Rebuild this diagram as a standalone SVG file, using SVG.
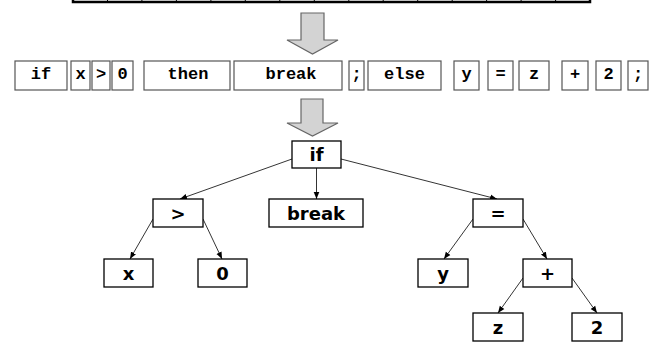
<svg xmlns="http://www.w3.org/2000/svg" width="653" height="342" viewBox="0 0 653 342">
<style>
.tok{fill:#fff;stroke:#555;stroke-width:1.2}
.tt{font-family:"Liberation Mono",monospace;font-weight:bold;font-size:17px;text-anchor:middle;fill:#000}
.nd{fill:#fff;stroke:#000;stroke-width:1.3}
.nt{font-family:"DejaVu Sans",sans-serif;font-weight:bold;font-size:18px;text-anchor:middle;fill:#000}
.ed{stroke:#000;stroke-width:0.8;fill:none;marker-end:url(#ah)}
.big{fill:#d3d3d3;stroke:#666;stroke-width:1.2}
.div{stroke:#000;stroke-width:1}
</style>
<defs>
<marker id="ah" viewBox="0 0 10 10" refX="10" refY="5" markerWidth="7" markerHeight="7" markerUnits="userSpaceOnUse" orient="auto">
<path d="M0,1 L10,5 L0,9 z" fill="#000"/>
</marker>
</defs>
<rect width="653" height="342" fill="#fff"/>
<g id="bar">
<rect x="73" y="-20" width="517" height="22" fill="#fff" stroke="#000" stroke-width="2.5"/>
<g class="div">
<line x1="107.5" y1="-20" x2="107.5" y2="2"/><line x1="141.9" y1="-20" x2="141.9" y2="2"/>
<line x1="176.4" y1="-20" x2="176.4" y2="2"/><line x1="210.9" y1="-20" x2="210.9" y2="2"/>
<line x1="245.3" y1="-20" x2="245.3" y2="2"/><line x1="279.8" y1="-20" x2="279.8" y2="2"/>
<line x1="314.3" y1="-20" x2="314.3" y2="2"/><line x1="348.8" y1="-20" x2="348.8" y2="2"/>
<line x1="383.2" y1="-20" x2="383.2" y2="2"/><line x1="417.7" y1="-20" x2="417.7" y2="2"/>
<line x1="452.2" y1="-20" x2="452.2" y2="2"/><line x1="486.6" y1="-20" x2="486.6" y2="2"/>
<line x1="521.1" y1="-20" x2="521.1" y2="2"/><line x1="555.6" y1="-20" x2="555.6" y2="2"/>
</g>
</g>
<g id="arrow1"><path class="big" d="M301,13 H324 V40 H338 L312.5,54 L287,40 H301 Z"/></g>
<g id="tokens">
<g id="t-if"><rect class="tok" x="15" y="61" width="52" height="29"/><text class="tt" x="41" y="79">if</text></g>
<g id="t-x"><rect class="tok" x="71" y="61" width="19" height="29"/><text class="tt" x="80.5" y="79">x</text></g>
<g id="t-gt"><rect class="tok" x="92" y="61" width="18" height="29"/><text class="tt" x="101" y="79">&gt;</text></g>
<g id="t-0"><rect class="tok" x="112" y="61" width="21" height="29"/><text class="tt" x="122.5" y="79">0</text></g>
<g id="t-then"><rect class="tok" x="144" y="61" width="86" height="29"/><text class="tt" x="188" y="79">then</text></g>
<g id="t-break"><rect class="tok" x="234" y="61" width="108" height="29"/><text class="tt" x="291" y="79">break</text></g>
<g id="t-semi1"><rect class="tok" x="349" y="61" width="15" height="29"/><text class="tt" x="356.5" y="79">;</text></g>
<g id="t-else"><rect class="tok" x="368" y="61" width="73" height="29"/><text class="tt" x="404.5" y="79">else</text></g>
<g id="t-y"><rect class="tok" x="454" y="61" width="25" height="29"/><text class="tt" x="466.5" y="79">y</text></g>
<g id="t-eq"><rect class="tok" x="488" y="61" width="25" height="29"/><text class="tt" x="500.5" y="79">=</text></g>
<g id="t-z"><rect class="tok" x="519" y="61" width="30" height="29"/><text class="tt" x="534" y="79">z</text></g>
<g id="t-plus"><rect class="tok" x="562" y="61" width="26" height="29"/><text class="tt" x="575" y="79">+</text></g>
<g id="t-2"><rect class="tok" x="596" y="61" width="25" height="29"/><text class="tt" x="608.5" y="79">2</text></g>
<g id="t-semi2"><rect class="tok" x="628" y="61" width="20" height="29"/><text class="tt" x="638" y="79">;</text></g>
</g>
<g id="arrow2"><path class="big" d="M301,99 H323 V123 H338 L312.5,136 L287,123 H301 Z"/></g>
<g id="connectors">
<line class="ed" x1="292" y1="159" x2="180" y2="199"/>
<line class="ed" x1="316.5" y1="168" x2="316.5" y2="199"/>
<line class="ed" x1="341" y1="159" x2="497" y2="199"/>
<line class="ed" x1="153" y1="219" x2="130" y2="259"/>
<line class="ed" x1="203" y1="219" x2="222" y2="259"/>
<line class="ed" x1="473" y1="219" x2="444" y2="259"/>
<line class="ed" x1="523" y1="219" x2="547" y2="259"/>
<line class="ed" x1="523" y1="278" x2="498" y2="313"/>
<line class="ed" x1="572" y1="278" x2="597" y2="313"/>
</g>
<g id="n-if"><rect class="nd" x="292" y="141" width="49" height="27"/><text class="nt" x="316.5" y="161">if</text></g>
<g id="n-gt"><rect class="nd" x="153" y="199" width="50" height="28"/><text class="nt" x="178" y="220">&gt;</text></g>
<g id="n-break"><rect class="nd" x="269" y="199" width="94" height="28"/><text class="nt" x="316" y="220">break</text></g>
<g id="n-x"><rect class="nd" x="104" y="259" width="49" height="28"/><text class="nt" x="128.5" y="280">x</text></g>
<g id="n-0"><rect class="nd" x="198" y="259" width="49" height="28"/><text class="nt" x="222.5" y="280">0</text></g>
<g id="n-eq"><rect class="nd" x="473" y="199" width="50" height="28"/><text class="nt" x="498" y="220">=</text></g>
<g id="n-y"><rect class="nd" x="418" y="259" width="50" height="28"/><text class="nt" x="443" y="280">y</text></g>
<g id="n-plus"><rect class="nd" x="523" y="259" width="49" height="28"/><text class="nt" x="547.5" y="280">+</text></g>
<g id="n-z"><rect class="nd" x="473" y="313" width="50" height="28"/><text class="nt" x="498" y="334">z</text></g>
<g id="n-2"><rect class="nd" x="572" y="313" width="50" height="28"/><text class="nt" x="597" y="334">2</text></g>
</svg>
